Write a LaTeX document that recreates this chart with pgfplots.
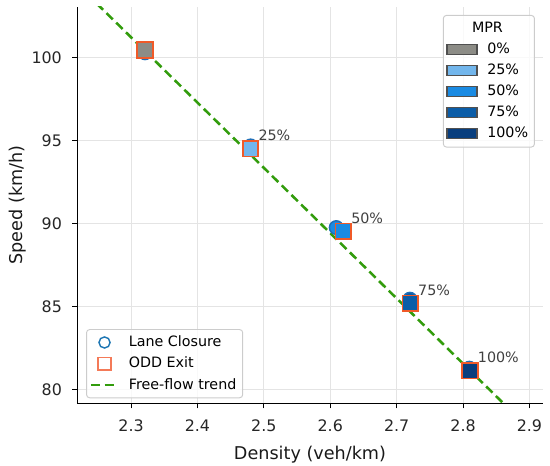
\documentclass[border=0pt]{standalone}
\usepackage{fontspec}
\setmainfont{DejaVu Sans}
\usepackage{pgfplots}
\usepackage{pgfplotstable}
\pgfplotsset{compat=1.18}
\definecolor{cA}{HTML}{8C8C86}
\definecolor{cB}{HTML}{72B6EC}
\definecolor{cC}{HTML}{1A8BE3}
\definecolor{cD}{HTML}{0B5DA8}
\definecolor{cE}{HTML}{083E7E}
\definecolor{edgeblue}{HTML}{1F6FB8}
\definecolor{edgeorange}{HTML}{F05A28}
\definecolor{legblue}{HTML}{1F77B4}
\definecolor{legorange}{HTML}{F47A58}
\definecolor{trendgreen}{HTML}{329C0C}
\definecolor{gridgray}{HTML}{E4E4E4}
\definecolor{patchedge}{HTML}{505050}
\definecolor{annot}{HTML}{404040}
\definecolor{legframe}{HTML}{CCCCCC}

\pgfplotstableread{
x y mpr
2.321 100.30 p0
2.480 94.68 p25
2.609 89.76 p50
2.720 85.44 p75
2.8095 81.28 p100
}\lanetab

\pgfplotstableread{
x y mpr
2.321 100.46 p0
2.480 94.51 p25
2.6197 89.53 p50
2.7205 85.19 p75
2.8105 81.12 p100
}\oddtab

\pgfplotstableread{
x y lab
2.480 94.51 25\%
2.6197 89.53 50\%
2.7205 85.19 75\%
2.8105 81.12 100\%
}\annottab

\pgfplotsset{
  mprclasses/.style={
    scatter/classes={
      p0={fill=cA},
      p25={fill=cB},
      p50={fill=cC},
      p75={fill=cD},
      p100={fill=cE}
    }
  }
}

\begin{document}
\begin{tikzpicture}
\begin{axis}[
  scale only axis,
  width=293.2pt, height=249.7pt,
  xmin=2.219, xmax=2.92, ymin=79.16, ymax=103.06,
  axis x line*=bottom, axis y line*=left,
  axis line style={-, line width=0.6pt, black},
  xtick={2.3,2.4,2.5,2.6,2.7,2.8,2.9},
  ytick={80,85,90,95,100},
  tick align=outside,
  major tick length=3.2pt,
  tick style={line width=0.6pt, black},
  grid=major,
  major grid style={line width=0.5pt, gridgray},
  /pgf/number format/assume math mode=true,
  tick label style={font=\fontsize{10}{12}\selectfont, text=black!85},
  xticklabel style={yshift=-3.5pt},
  yticklabel style={xshift=-3pt},
  xlabel={Density (veh/km)},
  ylabel={Speed (km/h)},
  label style={font=\fontsize{11.1}{13}\selectfont, text=black!90},
  xlabel style={at={(axis description cs:0.5,-0.13)}, anchor=center},
  ylabel style={at={(axis description cs:-0.128,0.5)}, anchor=center},
  legend style={
    at={(0.0188,0.0128)}, anchor=south west,
    draw=legframe, line width=0.6pt, rounded corners=2pt,
    fill=white, fill opacity=0.8, text opacity=1,
    font=\fontsize{9}{11}\selectfont,
    inner xsep=2pt, inner ysep=2pt,
    row sep=1pt, column sep=4pt,
  },
  legend image post style={sharp corners, opacity=1},
  legend cell align=left,
]
\addplot[trendgreen, line width=1.6pt, dash pattern=on 5.6pt off 3pt, forget plot]
  coordinates {(2.219,104.42) (2.92,76.83)};

\addplot[scatter, only marks, scatter src=explicit symbolic, mprclasses,
  mark=*, mark size=4.3pt, mark options={draw=edgeblue, line width=0.9pt}, forget plot]
  table[x=x, y=y, meta=mpr] {\lanetab};

\addplot[scatter, only marks, scatter src=explicit symbolic, mprclasses,
  mark=square*, mark size=4.9pt, mark options={draw=edgeorange, line width=1.1pt}, forget plot]
  table[x=x, y=y, meta=mpr] {\oddtab};

\addplot[draw=none, forget plot, nodes near coords, point meta=explicit symbolic,
  nodes near coords style={anchor=base west, xshift=4.8pt, yshift=5pt, inner sep=0pt,
    font=\fontsize{9}{11}\selectfont, text=annot}]
  table[x=x, y=y, meta=lab] {\annottab};

\addlegendimage{only marks, mark=o, mark size=3.5pt, draw=legblue, line width=0.9pt}
\addlegendentry{Lane Closure}
\addlegendimage{only marks, mark=square, mark size=4pt, draw=legorange, line width=0.9pt}
\addlegendentry{ODD Exit}
\addlegendimage{trendgreen, line width=1.6pt, dash pattern=on 5.6pt off 3pt}
\addlegendentry{Free-flow trend}
\end{axis}

\begin{axis}[
  scale only axis,
  width=293.2pt, height=249.7pt,
  xmin=2.219, xmax=2.92, ymin=79.16, ymax=103.06,
  hide axis,
  legend style={
    at={(0.9833,0.98)}, anchor=north east,
    draw=legframe, line width=0.6pt, rounded corners=2pt,
    fill=white, fill opacity=0.8, text opacity=1,
    font=\fontsize{9}{11}\selectfont,
    inner xsep=2pt, inner ysep=2.5pt,
    row sep=1pt, column sep=4pt,
  },
  legend cell align=left,
  legend image code/.code={\draw[#1, draw=patchedge, line width=0.8pt, sharp corners, fill opacity=1, draw opacity=1] (0pt,-3.2pt) rectangle (18.9pt,3.2pt);},
]
\addlegendimage{empty legend}
\addlegendentry{\hspace*{-9.6pt}MPR}
\addlegendimage{fill=cA}
\addlegendentry{0\%}
\addlegendimage{fill=cB}
\addlegendentry{25\%}
\addlegendimage{fill=cC}
\addlegendentry{50\%}
\addlegendimage{fill=cD}
\addlegendentry{75\%}
\addlegendimage{fill=cE}
\addlegendentry{100\%}
\end{axis}
\pgfresetboundingbox
\path[use as bounding box] ([xshift=-48.7pt,yshift=-38.9pt]current axis.south west) rectangle ([xshift=4.6pt,yshift=4.4pt]current axis.north east);
\end{tikzpicture}
\end{document}
